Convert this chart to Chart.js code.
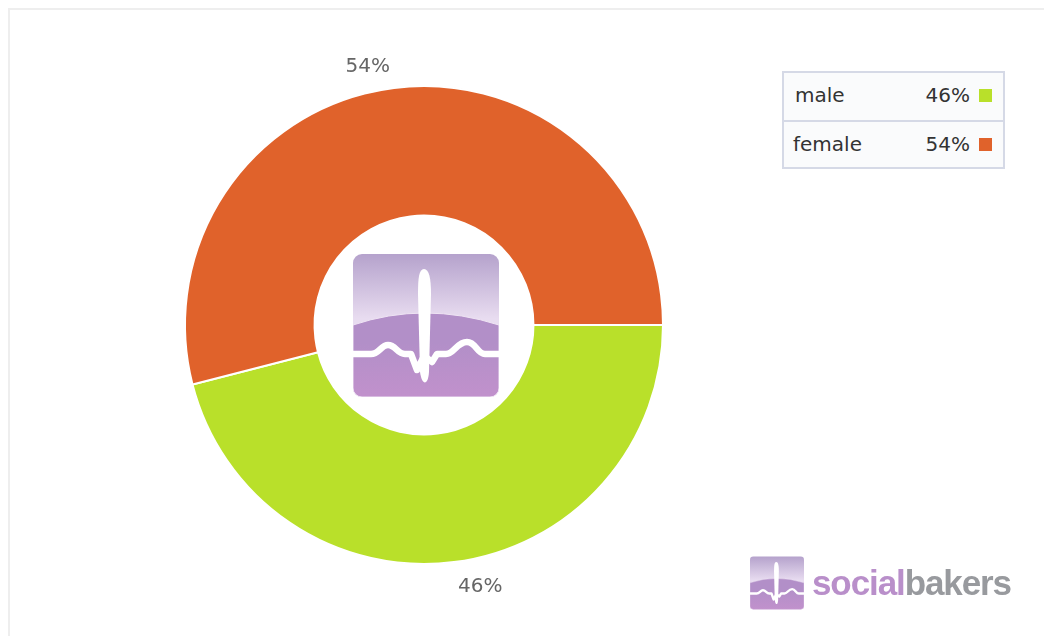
<!DOCTYPE html>
<html>
<head>
<meta charset="utf-8">
<title>Gender split</title>
<script src="https://cdn.jsdelivr.net/npm/chart.js@4"></script>
<style>
    html, body { margin: 0; padding: 0; background: #fff; }
    #page { position: relative; width: 1044px; height: 636px; overflow: hidden; }
    #frame { position: absolute; left: 8px; top: 8px; width: 1040px; height: 640px; border: 2px solid #eeeeee; }
    #genderChart { position: absolute; left: 0; top: 0; }
    .icon { position: absolute; }
    #legendBox {
        position: absolute; left: 782px; top: 71px; width: 223px; height: 98px;
        box-sizing: border-box; border: 2px solid #d5d9e6; background: #fafbfc;
        font: 20px "DejaVu Sans", sans-serif; color: #333;
    }
    .row { position: relative; height: 47px; box-sizing: border-box; }
    .row + .row { border-top: 2px solid #d5d9e6; height: 49px; }
    .row .name { position: absolute; left: 11px; top: 10px; }
    .row + .row .name { left: 9px; }
    .row .pct { position: absolute; right: 33px; top: 10px; }
    .row .swatch { position: absolute; left: 195px; top: 16px; width: 13px; height: 13px; }
    #brand {
        position: absolute; left: 812px; top: 563px;
        font: bold 35px "Liberation Sans", sans-serif; letter-spacing: -1.1px; color: #989a9e;
    }
    #brand span { color: #b98fca; }
</style>
</head>
<body>
<div id="page">
    <div id="frame"></div>
    <canvas id="genderChart" width="1044" height="636"></canvas>

    <svg width="0" height="0" style="position:absolute">
        <defs>
            <linearGradient id="sky" x1="0" y1="0" x2="0" y2="1">
                <stop offset="0" stop-color="#b5a2cc"/>
                <stop offset="0.45" stop-color="#e8dcf0"/>
            </linearGradient>
            <linearGradient id="hill" x1="0" y1="0" x2="0" y2="1">
                <stop offset="0.35" stop-color="#b28fc8"/>
                <stop offset="1" stop-color="#c191cc"/>
            </linearGradient>
            <symbol id="pulse" viewBox="0 0 146 143">
                <rect width="146" height="143" rx="9" fill="url(#sky)"/>
                <path d="M0 71 Q71 47 146 71 V134 a9 9 0 0 1 -9 9 H9 a9 9 0 0 1 -9 -9 Z" fill="url(#hill)" stroke="#efe4f4" stroke-width="1"/>
                <path d="M0 100 H18 C26 100 28 91 35 91 C43 91 44 100 52 100 H58 L64 116 L70 104 M74 104 L79 108 L84 100 H93 C101 100 104 88 114 88 C123 88 124 100 132 100 H146"
                      fill="none" stroke="#fff" stroke-width="6.5" stroke-linejoin="round"/>
                <path d="M71 15 C66 15 65 24 65 40 L67 118 C69 132 75 132 76 118 L78 40 C78 24 76 15 71 15 Z" fill="#fff"/>
            </symbol>
        </defs>
    </svg>
    <svg class="icon" style="left:353px;top:254px" width="146" height="143"><use href="#pulse"/></svg>

    <div id="legendBox"></div>

    <svg class="icon" style="left:750px;top:556px" width="54" height="54"><use href="#pulse"/></svg>
    <div id="brand"><span>social</span>bakers</div>
</div>

<script>
// Dados do gráfico
const categories = ['male', 'female'];
const shares = [46, 54];
const sliceColors = ['#b9e02a', '#e0622b'];

// Rótulos de percentual por fora de cada fatia, um pouco girados em relação ao meio do arco
const labelShift = -5 * Math.PI / 180;
const outerLabels = {
    id: 'outerLabels',
    afterDatasetsDraw(chart) {
        const ctx = chart.ctx;
        ctx.save();
        ctx.font = '20px "DejaVu Sans", sans-serif';
        ctx.fillStyle = '#666';
        ctx.textAlign = 'center';
        ctx.textBaseline = 'middle';
        chart.getDatasetMeta(0).data.forEach((arc, i) => {
            const p = arc.getProps(['x', 'y', 'startAngle', 'endAngle', 'outerRadius'], true);
            const mid = (p.startAngle + p.endAngle) / 2 + labelShift;
            const r = p.outerRadius + 27;
            ctx.fillText(shares[i] + '%', p.x + Math.cos(mid) * r, p.y + Math.sin(mid) * r + 2);
        });
        ctx.restore();
    }
};

const config = {
    type: 'doughnut',
    data: {
        labels: categories,
        datasets: [{
            data: shares,
            backgroundColor: sliceColors,
            borderColor: '#fff',
            borderWidth: 2
        }]
    },
    options: {
        responsive: false,
        animation: false,
        rotation: 90,
        radius: 239,
        cutout: 109,
        layout: { padding: { left: 185, right: 381, top: 86, bottom: 72 } },
        plugins: {
            legend: { display: false },
            tooltip: { enabled: false }
        }
    },
    plugins: [outerLabels]
};

// Legenda em tabela no canto superior direito
function buildLegend() {
    const box = document.getElementById('legendBox');
    categories.forEach((name, i) => {
        const row = document.createElement('div');
        row.className = 'row';
        row.innerHTML = '<span class="name">' + name + '</span><span class="pct">' + shares[i] +
            '%</span><i class="swatch" style="background:' + sliceColors[i] + '"></i>';
        box.appendChild(row);
    });
}

buildLegend();
new Chart(document.getElementById('genderChart').getContext('2d'), config);
</script>
</body>
</html>
